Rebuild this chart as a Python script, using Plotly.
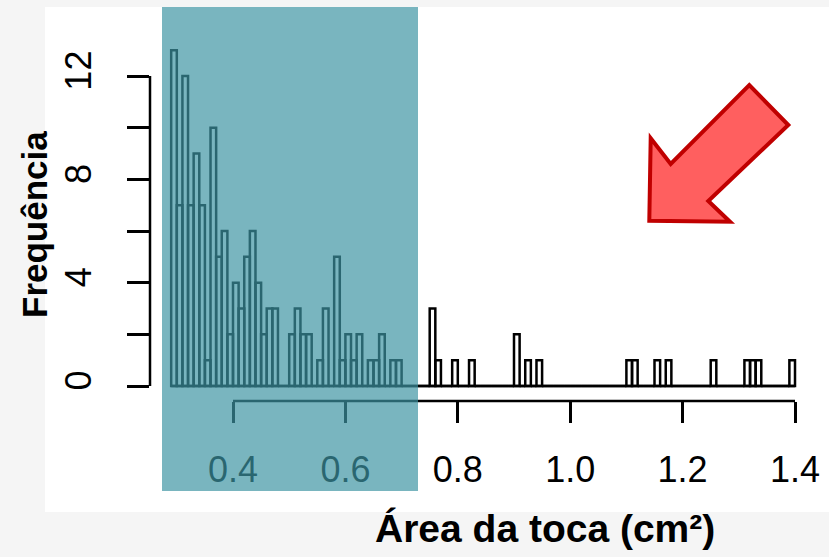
import plotly.graph_objects as go

# ---- data ----
bin_start = 0.29
bin_width = 0.01
counts = [13, 7, 12, 7, 9, 7, 1, 10, 5, 6, 2,
          4, 3, 5, 6, 4, 2, 3, 3, 0, 0, 2, 3,
          2, 2, 0, 1, 3, 0, 5, 1, 2, 1, 2, 0, 1, 1, 2, 0, 1, 1,
          0, 0, 0, 0, 0, 3, 1, 0, 0, 1, 0, 0, 1,
          0, 0, 0, 0, 0, 0, 0, 2, 0, 1, 0, 1,
          0, 0, 0, 0, 0, 0, 0, 0, 0, 0, 0, 0, 0, 0, 0,
          1, 1, 0, 0, 0, 1, 0, 1,
          0, 0, 0, 0, 0, 0, 0, 1,
          0, 0, 0, 0, 0, 1, 1, 1,
          0, 0, 0, 0, 0, 1]
x_ticks = [0.4, 0.6, 0.8, 1.0, 1.2, 1.4]
x_ticklabels = ["0.4", "0.6", "0.8", "1.0", "1.2", "1.4"]
y_ticks = [0, 2, 4, 6, 8, 10, 12]
y_ticklabels = ["0", "", "4", "", "8", "", "12"]
x_title = "Área da toca (cm²)"
y_title = "Frequência"

n = len(counts)
centers = [bin_start + bin_width * (k + 0.5) for k in range(n)]
first_edge = bin_start
last_edge = bin_start + bin_width * n

FONT = "Liberation Sans, Arial, Helvetica, sans-serif"
W, H = 829, 557
L, R, T, B = 150, 810, 7, 401  # plot area in pixels


def P(px, py):
    return (px - L) / (R - L), (B - py) / (B - T)


fig = go.Figure()
fig.add_trace(go.Bar(
    x=centers, y=counts, width=bin_width,
    marker=dict(color="rgba(0,0,0,0)", line=dict(color="black", width=2.5)),
    hoverinfo="x+y", showlegend=False,
))
fig.add_trace(go.Scatter(
    x=[first_edge, last_edge], y=[0, 0], mode="lines",
    line=dict(color="black", width=2.5), showlegend=False, hoverinfo="skip",
))

shapes = []
# white panel
x0, y0 = P(45, 512)
x1, y1 = P(829, 7)
shapes.append(dict(type="rect", xref="paper", yref="paper", x0=x0, y0=y0, x1=x1, y1=y1,
                   fillcolor="white", line=dict(width=0), layer="below"))
# R-style axis lines
shapes.append(dict(type="line", xref="x", yref="paper", x0=x_ticks[0], x1=x_ticks[-1], y0=0, y1=0,
                   line=dict(color="black", width=2.5)))
shapes.append(dict(type="line", xref="paper", yref="y", x0=0, x1=0, y0=y_ticks[0], y1=y_ticks[-1],
                   line=dict(color="black", width=2.5)))
# teal overlay
x0, y0 = P(162, 491)
x1, y1 = P(418, 7)
shapes.append(dict(type="rect", xref="paper", yref="paper", x0=x0, y0=y0, x1=x1, y1=y1,
                   fillcolor="rgba(61,148,162,0.69)", line=dict(width=0), layer="above"))
# red arrow
arrow_px = [(649.3, 220.7), (650.7, 138.3), (670.7, 164), (749.3, 85),
            (788.3, 125), (708.3, 201), (730, 221.7)]
pts = [P(a, b) for a, b in arrow_px]
path = "M " + " L ".join(f"{a:.5f},{b:.5f}" for a, b in pts) + " Z"
shapes.append(dict(type="path", xref="paper", yref="paper", path=path,
                   fillcolor="#ff5f5f", line=dict(color="#c00000", width=4), layer="above"))

xr0 = x_ticks[0] - (233 - L) / 562
xr1 = x_ticks[-1] + (R - 795) / 562
ppu = (386 - 76) / 12
yr0 = -(B - 386) / ppu
yr1 = 12 + (76 - T) / ppu

tx, ty = P(35, 224)
ax, ay = P(545, 528)

fig.update_layout(
    width=W, height=H,
    margin=dict(l=L, r=W - R, t=T, b=H - B, autoexpand=False),
    paper_bgcolor="#f5f5f5", plot_bgcolor="white",
    font=dict(family=FONT, color="black"),
    xaxis=dict(range=[xr0, xr1], tickvals=x_ticks, ticktext=x_ticklabels,
               ticks="outside", ticklen=21, tickwidth=2.5, tickcolor="black",
               showgrid=False, zeroline=False, showline=False,
               tickfont=dict(size=36, family=FONT), ticklabelstandoff=16),
    yaxis=dict(range=[yr0, yr1], tickvals=y_ticks, ticktext=y_ticklabels,
               ticks="outside", ticklen=22, tickwidth=2.5, tickcolor="black",
               showgrid=False, zeroline=False, showline=False, tickangle=-90,
               tickfont=dict(size=36, family=FONT), ticklabelstandoff=22),
    shapes=shapes,
    annotations=[
        dict(text=y_title, xref="paper", yref="paper", x=tx, y=ty, showarrow=False,
             textangle=-90, xanchor="center", yanchor="middle",
             font=dict(size=35, family=FONT, weight="bold")),
        dict(text=x_title, xref="paper", yref="paper", x=ax, y=ay, showarrow=False,
             xanchor="center", yanchor="middle",
             font=dict(size=39, family=FONT, weight="bold")),
    ],
)

fig.write_html("out.html",
               config={"displayModeBar": False},
               post_script="document.body.style.margin='0px';document.body.style.overflow='hidden';")
